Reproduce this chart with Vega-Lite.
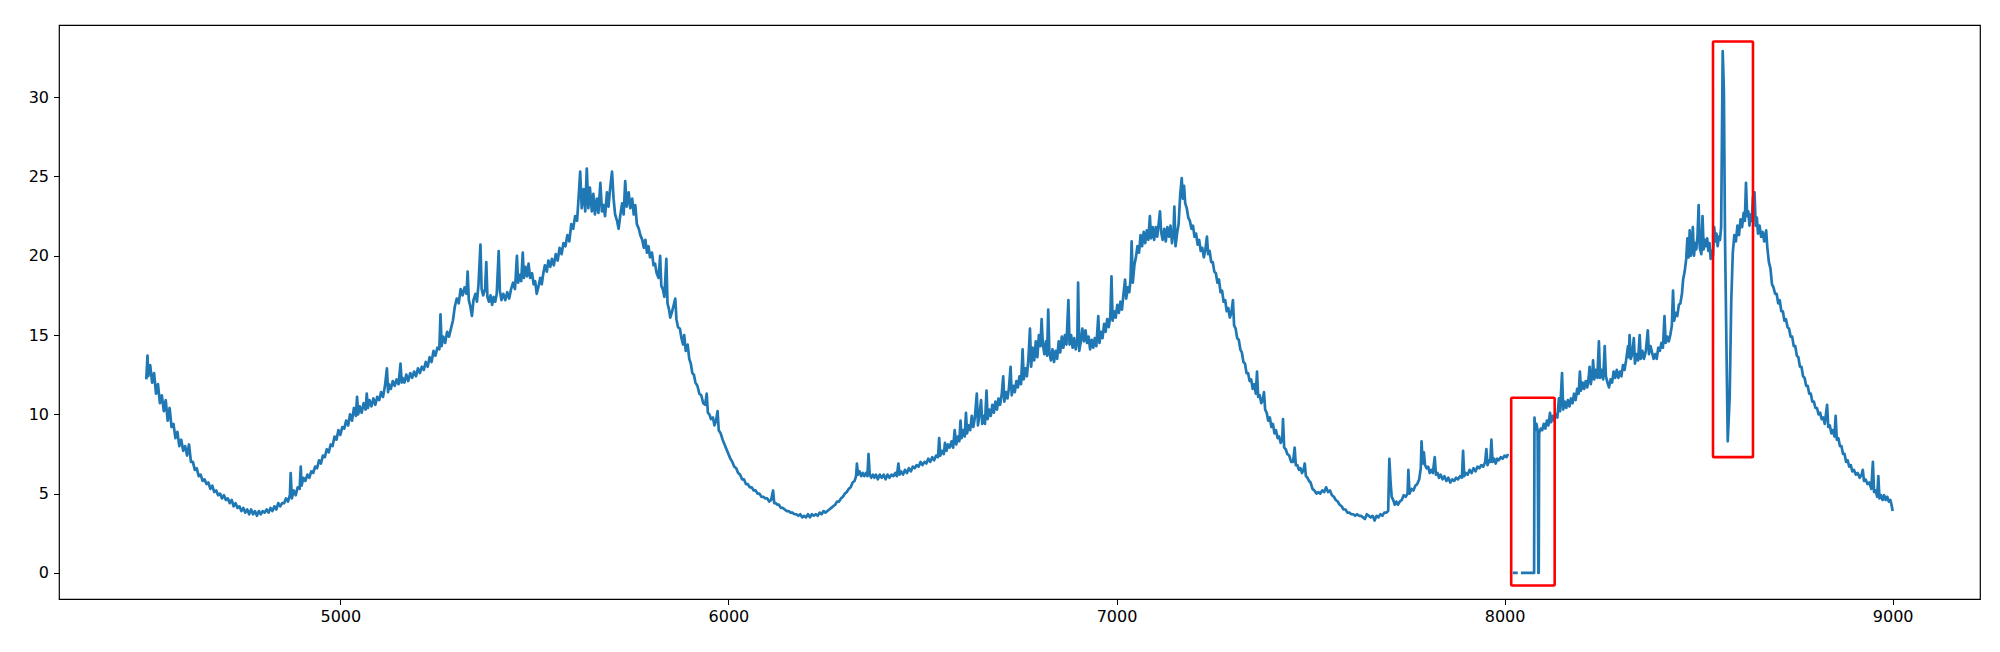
{
  "$schema": "https://vega.github.io/schema/vega-lite/v6.json",
  "width": 1921,
  "height": 574,
  "autosize": {"type": "none"},
  "padding": {"left": 59, "top": 25, "right": 20, "bottom": 53},
  "background": "#ffffff",
  "config": {
    "view": {"stroke": "#000000", "strokeWidth": 1.2},
    "axis": {"domain": false, "grid": false, "ticks": true, "tickColor": "#000000", "tickSize": 5.5, "tickWidth": 1, "labelFont": "DejaVu Sans", "labelFontSize": 16, "labelColor": "#000000", "title": null}
  },
  "datasets": {
    "series": [
      {"x":4500,"y":12.2},{"x":4503,"y":13.7},{"x":4505,"y":12.4},{"x":4510,"y":13.1},{"x":4515,"y":12.0},{"x":4520,"y":12.6},{"x":4525,"y":11.3},{"x":4530,"y":11.9},{"x":4535,"y":10.7},{"x":4540,"y":11.2},{"x":4545,"y":10.2},{"x":4550,"y":10.9},{"x":4555,"y":9.6},{"x":4560,"y":10.4},{"x":4565,"y":9.2},{"x":4570,"y":9.4},{"x":4575,"y":8.5},{"x":4580,"y":8.9},{"x":4585,"y":8.0},{"x":4590,"y":8.4},{"x":4595,"y":7.7},{"x":4600,"y":8.0},
      {"x":4605,"y":7.4},{"x":4610,"y":8.1},{"x":4615,"y":7.0},{"x":4620,"y":7.0},{"x":4625,"y":6.5},{"x":4630,"y":6.6},{"x":4635,"y":6.1},{"x":4640,"y":6.2},{"x":4645,"y":5.8},{"x":4650,"y":5.9},{"x":4655,"y":5.6},{"x":4660,"y":5.7},{"x":4665,"y":5.3},{"x":4670,"y":5.5},{"x":4675,"y":5.1},{"x":4680,"y":5.2},{"x":4685,"y":4.9},{"x":4690,"y":5.0},{"x":4695,"y":4.7},{"x":4700,"y":4.9},{"x":4705,"y":4.6},{"x":4710,"y":4.7},{"x":4715,"y":4.4},{"x":4720,"y":4.6},{"x":4725,"y":4.2},{"x":4730,"y":4.4},{"x":4735,"y":4.1},{"x":4740,"y":4.2},{"x":4745,"y":3.9},{"x":4750,"y":4.1},{"x":4755,"y":3.8},{"x":4760,"y":4.0},{"x":4765,"y":3.7},{"x":4770,"y":4.0},{"x":4775,"y":3.7},{"x":4780,"y":3.9},{"x":4785,"y":3.6},{"x":4790,"y":3.9},{"x":4795,"y":3.7},{"x":4800,"y":3.9},{"x":4805,"y":3.8},{"x":4810,"y":4.0},{"x":4815,"y":3.8},{"x":4820,"y":4.1},{"x":4825,"y":3.9},{"x":4830,"y":4.2},{"x":4835,"y":4.0},{"x":4840,"y":4.4},{"x":4845,"y":4.2},{"x":4850,"y":4.4},
      {"x":4855,"y":4.4},{"x":4860,"y":4.7},{"x":4865,"y":4.5},{"x":4870,"y":4.9},{"x":4872,"y":6.3},{"x":4875,"y":4.7},{"x":4880,"y":5.2},{"x":4885,"y":4.9},{"x":4890,"y":5.4},{"x":4895,"y":5.3},{"x":4898,"y":6.7},{"x":4900,"y":5.5},{"x":4905,"y":6.0},{"x":4910,"y":5.8},{"x":4915,"y":6.2},{"x":4920,"y":6.0},{"x":4925,"y":6.4},{"x":4930,"y":6.3},{"x":4935,"y":6.7},{"x":4940,"y":6.6},{"x":4945,"y":7.1},{"x":4950,"y":6.9},{"x":4955,"y":7.4},{"x":4960,"y":7.3},{"x":4965,"y":7.8},{"x":4970,"y":7.6},{"x":4975,"y":8.1},{"x":4980,"y":8.0},{"x":4985,"y":8.6},{"x":4990,"y":8.4},{"x":4995,"y":9.0},{"x":5000,"y":8.7},{"x":5005,"y":9.2},{"x":5010,"y":9.1},{"x":5015,"y":9.6},{"x":5020,"y":9.3},{"x":5025,"y":10.0},{"x":5030,"y":9.6},{"x":5035,"y":10.4},{"x":5040,"y":9.9},{"x":5043,"y":11.1},{"x":5046,"y":10.0},{"x":5050,"y":10.5},{"x":5055,"y":10.1},{"x":5060,"y":10.7},{"x":5065,"y":10.3},{"x":5068,"y":11.3},{"x":5071,"y":10.4},{"x":5075,"y":10.9},{"x":5080,"y":10.5},{"x":5085,"y":11.0},{"x":5090,"y":10.6},{"x":5095,"y":11.1},{"x":5100,"y":10.9},{"x":5105,"y":11.4},{"x":5110,"y":11.1},{"x":5115,"y":11.8},{"x":5120,"y":12.9},{"x":5123,"y":11.4},{"x":5125,"y":11.9},{"x":5130,"y":11.6},{"x":5135,"y":12.1},{"x":5140,"y":11.8},{"x":5145,"y":12.2},{"x":5150,"y":11.9},{"x":5155,"y":13.2},{"x":5158,"y":12.0},{"x":5160,"y":12.3},{"x":5165,"y":12.0},{"x":5170,"y":12.5},{"x":5175,"y":12.1},{"x":5180,"y":12.6},{"x":5185,"y":12.3},{"x":5190,"y":12.7},{"x":5195,"y":12.4},{"x":5200,"y":12.9},{"x":5205,"y":12.6},{"x":5210,"y":13.0},{"x":5215,"y":12.8},{"x":5220,"y":13.3},{"x":5225,"y":13.0},{"x":5230,"y":13.6},{"x":5235,"y":13.3},{"x":5240,"y":14.0},{"x":5245,"y":13.7},{"x":5250,"y":14.2},
      {"x":5255,"y":14.1},{"x":5258,"y":16.3},{"x":5261,"y":14.3},{"x":5265,"y":14.9},{"x":5270,"y":14.5},{"x":5275,"y":15.2},{"x":5280,"y":14.9},{"x":5285,"y":15.4},{"x":5290,"y":15.9},{"x":5295,"y":16.8},{"x":5300,"y":17.3},{"x":5305,"y":17.0},{"x":5310,"y":17.9},{"x":5315,"y":17.5},{"x":5320,"y":18.0},{"x":5325,"y":17.6},{"x":5328,"y":19.0},{"x":5331,"y":17.2},{"x":5335,"y":16.8},{"x":5339,"y":16.2},{"x":5343,"y":17.2},{"x":5348,"y":17.6},{"x":5352,"y":17.1},{"x":5356,"y":18.2},{"x":5361,"y":20.7},{"x":5364,"y":17.9},{"x":5368,"y":17.5},{"x":5373,"y":17.9},{"x":5376,"y":19.6},{"x":5379,"y":17.4},{"x":5383,"y":17.1},{"x":5387,"y":17.5},{"x":5391,"y":16.9},{"x":5395,"y":17.4},{"x":5399,"y":17.1},{"x":5403,"y":17.6},{"x":5408,"y":20.3},{"x":5411,"y":17.8},{"x":5415,"y":17.2},{"x":5420,"y":17.6},{"x":5425,"y":17.2},{"x":5430,"y":17.7},{"x":5435,"y":17.3},{"x":5440,"y":17.9},{"x":5445,"y":18.3},{"x":5450,"y":17.9},{"x":5455,"y":20.0},{"x":5458,"y":18.3},{"x":5462,"y":18.8},{"x":5466,"y":18.4},{"x":5470,"y":20.2},{"x":5473,"y":18.6},{"x":5477,"y":19.3},{"x":5481,"y":18.7},{"x":5485,"y":19.5},{"x":5489,"y":18.6},{"x":5494,"y":18.9},{"x":5498,"y":18.2},{"x":5502,"y":18.4},{"x":5506,"y":17.6},{"x":5510,"y":18.0},{"x":5515,"y":18.6},{"x":5519,"y":18.2},{"x":5523,"y":18.9},{"x":5527,"y":19.4},{"x":5532,"y":19.0},{"x":5536,"y":19.7},{"x":5541,"y":19.3},{"x":5545,"y":19.8},{"x":5550,"y":19.4},{"x":5555,"y":20.1},{"x":5560,"y":19.7},{"x":5565,"y":20.5},{"x":5570,"y":20.1},{"x":5575,"y":20.8},{"x":5580,"y":20.6},{"x":5585,"y":21.3},{"x":5590,"y":20.9},{"x":5595,"y":22.0},{"x":5600,"y":21.7},
      {"x":5605,"y":22.5},{"x":5610,"y":22.2},{"x":5614,"y":23.7},{"x":5618,"y":25.3},{"x":5622,"y":23.0},{"x":5627,"y":24.2},{"x":5631,"y":22.8},{"x":5635,"y":25.5},{"x":5639,"y":23.0},{"x":5643,"y":24.3},{"x":5648,"y":22.8},{"x":5652,"y":23.9},{"x":5656,"y":22.6},{"x":5661,"y":23.6},{"x":5665,"y":22.7},{"x":5670,"y":24.6},{"x":5674,"y":22.8},{"x":5678,"y":23.2},{"x":5682,"y":22.5},{"x":5687,"y":24.0},{"x":5691,"y":23.1},{"x":5695,"y":24.2},{"x":5700,"y":25.3},{"x":5704,"y":23.6},{"x":5708,"y":22.6},{"x":5713,"y":22.2},{"x":5717,"y":21.7},{"x":5721,"y":22.5},{"x":5726,"y":23.3},{"x":5730,"y":22.6},{"x":5734,"y":24.7},{"x":5738,"y":23.1},{"x":5743,"y":24.0},{"x":5747,"y":23.0},{"x":5752,"y":23.6},{"x":5756,"y":22.6},{"x":5760,"y":23.2},{"x":5764,"y":22.0},{"x":5769,"y":21.7},{"x":5773,"y":21.3},{"x":5778,"y":21.0},{"x":5782,"y":20.5},{"x":5786,"y":21.0},{"x":5790,"y":20.2},{"x":5794,"y":20.6},{"x":5798,"y":19.9},{"x":5803,"y":20.2},{"x":5807,"y":19.4},{"x":5811,"y":19.5},{"x":5815,"y":18.9},{"x":5820,"y":18.6},{"x":5824,"y":20.0},{"x":5827,"y":18.1},{"x":5831,"y":17.9},{"x":5835,"y":17.4},{"x":5840,"y":19.8},{"x":5843,"y":17.0},{"x":5847,"y":16.6},{"x":5850,"y":16.1},
      {"x":5855,"y":16.5},{"x":5860,"y":17.0},{"x":5863,"y":17.3},{"x":5866,"y":16.0},{"x":5870,"y":15.5},{"x":5875,"y":15.4},{"x":5879,"y":14.8},{"x":5883,"y":14.4},{"x":5886,"y":15.0},{"x":5890,"y":14.0},{"x":5895,"y":14.4},{"x":5899,"y":13.5},{"x":5903,"y":13.2},{"x":5907,"y":12.6},{"x":5911,"y":12.5},{"x":5915,"y":12.0},{"x":5920,"y":11.8},{"x":5925,"y":11.3},{"x":5930,"y":11.2},{"x":5935,"y":10.7},{"x":5940,"y":10.6},{"x":5944,"y":11.3},{"x":5947,"y":10.1},{"x":5951,"y":10.0},{"x":5955,"y":9.7},{"x":5960,"y":9.8},{"x":5964,"y":9.3},{"x":5968,"y":9.6},{"x":5972,"y":10.2},{"x":5975,"y":9.0},{"x":5980,"y":8.8},{"x":5985,"y":8.4},{"x":5990,"y":8.1},{"x":5995,"y":7.8},{"x":6000,"y":7.5},
      {"x":6005,"y":7.2},{"x":6010,"y":7.0},{"x":6015,"y":6.7},{"x":6020,"y":6.6},{"x":6025,"y":6.3},{"x":6030,"y":6.2},{"x":6035,"y":5.9},{"x":6040,"y":5.9},{"x":6045,"y":5.6},{"x":6050,"y":5.6},{"x":6055,"y":5.4},{"x":6060,"y":5.4},{"x":6065,"y":5.2},{"x":6070,"y":5.2},{"x":6075,"y":5.0},{"x":6080,"y":5.0},{"x":6085,"y":4.8},{"x":6090,"y":4.8},{"x":6095,"y":4.7},{"x":6100,"y":4.7},{"x":6105,"y":4.5},{"x":6110,"y":4.6},{"x":6115,"y":5.2},{"x":6118,"y":4.4},{"x":6122,"y":4.4},{"x":6126,"y":4.3},{"x":6130,"y":4.3},{"x":6135,"y":4.1},{"x":6140,"y":4.1},{"x":6145,"y":4.0},{"x":6150,"y":3.9},{"x":6155,"y":3.9},{"x":6160,"y":3.8},{"x":6165,"y":3.8},{"x":6170,"y":3.7},{"x":6175,"y":3.7},{"x":6180,"y":3.6},{"x":6185,"y":3.7},{"x":6190,"y":3.5},{"x":6195,"y":3.6},{"x":6200,"y":3.5},{"x":6205,"y":3.7},{"x":6210,"y":3.5},{"x":6215,"y":3.7},{"x":6220,"y":3.6},{"x":6225,"y":3.7},{"x":6230,"y":3.6},{"x":6235,"y":3.8},{"x":6240,"y":3.7},{"x":6245,"y":3.9},{"x":6250,"y":3.8},{"x":6255,"y":3.9},{"x":6260,"y":4.0},{"x":6265,"y":4.1},{"x":6270,"y":4.2},{"x":6275,"y":4.3},{"x":6280,"y":4.5},{"x":6285,"y":4.5},{"x":6290,"y":4.7},{"x":6295,"y":4.8},{"x":6300,"y":5.0},
      {"x":6305,"y":5.1},{"x":6310,"y":5.3},{"x":6315,"y":5.4},{"x":6320,"y":5.7},{"x":6325,"y":5.8},{"x":6329,"y":6.1},{"x":6331,"y":6.9},{"x":6334,"y":6.2},{"x":6338,"y":6.4},{"x":6342,"y":6.1},{"x":6346,"y":6.3},{"x":6350,"y":6.1},{"x":6354,"y":6.3},{"x":6358,"y":6.1},{"x":6361,"y":7.5},{"x":6364,"y":6.2},{"x":6368,"y":6.0},{"x":6372,"y":6.2},{"x":6376,"y":6.0},{"x":6380,"y":6.2},{"x":6385,"y":5.9},{"x":6390,"y":6.2},{"x":6395,"y":6.0},{"x":6400,"y":6.2},{"x":6405,"y":5.9},{"x":6410,"y":6.2},{"x":6415,"y":6.0},{"x":6420,"y":6.2},{"x":6425,"y":6.1},{"x":6430,"y":6.3},{"x":6434,"y":6.1},{"x":6438,"y":6.9},{"x":6441,"y":6.2},{"x":6445,"y":6.4},{"x":6450,"y":6.2},{"x":6455,"y":6.5},{"x":6460,"y":6.3},{"x":6465,"y":6.6},{"x":6470,"y":6.4},{"x":6475,"y":6.7},{"x":6480,"y":6.6},{"x":6485,"y":6.8},{"x":6490,"y":6.7},{"x":6495,"y":7.0},{"x":6500,"y":6.8},{"x":6505,"y":7.0},{"x":6510,"y":6.9},{"x":6515,"y":7.2},{"x":6520,"y":7.0},{"x":6525,"y":7.3},{"x":6530,"y":7.1},{"x":6535,"y":7.4},{"x":6540,"y":7.3},{"x":6543,"y":8.5},{"x":6546,"y":7.4},{"x":6550,"y":7.7},
      {"x":6555,"y":7.5},{"x":6558,"y":8.2},{"x":6562,"y":7.7},{"x":6566,"y":8.1},{"x":6570,"y":7.9},{"x":6575,"y":8.3},{"x":6579,"y":7.9},{"x":6583,"y":9.0},{"x":6587,"y":8.1},{"x":6591,"y":8.6},{"x":6595,"y":8.3},{"x":6598,"y":9.6},{"x":6601,"y":8.5},{"x":6605,"y":9.0},{"x":6609,"y":8.6},{"x":6612,"y":10.1},{"x":6615,"y":8.8},{"x":6619,"y":9.3},{"x":6623,"y":9.0},{"x":6627,"y":9.9},{"x":6631,"y":9.2},{"x":6635,"y":9.8},{"x":6640,"y":11.3},{"x":6643,"y":9.3},{"x":6647,"y":10.0},{"x":6651,"y":10.9},{"x":6654,"y":9.4},{"x":6658,"y":9.9},{"x":6661,"y":9.4},{"x":6665,"y":11.5},{"x":6668,"y":9.7},{"x":6672,"y":10.3},{"x":6676,"y":9.9},{"x":6680,"y":10.6},{"x":6684,"y":10.1},{"x":6688,"y":10.8},{"x":6692,"y":10.3},{"x":6696,"y":11.0},{"x":6700,"y":10.6},{"x":6704,"y":11.2},{"x":6708,"y":12.4},{"x":6711,"y":10.8},{"x":6715,"y":11.4},{"x":6719,"y":11.0},{"x":6723,"y":11.7},{"x":6727,"y":13.0},{"x":6730,"y":11.2},{"x":6734,"y":11.8},{"x":6738,"y":11.4},{"x":6742,"y":12.1},{"x":6746,"y":11.7},{"x":6750,"y":12.4},{"x":6754,"y":11.9},{"x":6758,"y":14.1},{"x":6761,"y":12.2},{"x":6765,"y":12.9},{"x":6769,"y":12.4},{"x":6773,"y":13.5},{"x":6777,"y":15.4},{"x":6780,"y":13.0},{"x":6784,"y":14.2},{"x":6788,"y":13.4},{"x":6792,"y":14.6},{"x":6796,"y":13.6},{"x":6800,"y":15.0},{"x":6804,"y":14.3},{"x":6807,"y":16.0},{"x":6810,"y":14.5},{"x":6814,"y":13.8},{"x":6818,"y":14.6},{"x":6821,"y":13.7},{"x":6824,"y":16.6},{"x":6827,"y":13.9},{"x":6831,"y":13.4},{"x":6835,"y":14.1},{"x":6839,"y":13.3},{"x":6843,"y":14.0},{"x":6847,"y":13.5},{"x":6851,"y":14.6},{"x":6855,"y":13.9},{"x":6859,"y":14.9},{"x":6863,"y":14.2},{"x":6867,"y":15.0},{"x":6871,"y":14.4},{"x":6876,"y":17.2},{"x":6879,"y":14.4},{"x":6883,"y":15.0},{"x":6887,"y":14.2},{"x":6891,"y":14.8},{"x":6895,"y":14.1},{"x":6899,"y":14.7},{"x":6901,"y":18.3},{"x":6904,"y":14.0},{"x":6908,"y":14.6},{"x":6912,"y":15.4},{"x":6916,"y":14.6},{"x":6920,"y":15.3},{"x":6924,"y":14.5},{"x":6928,"y":14.9},{"x":6932,"y":14.1},{"x":6936,"y":14.7},{"x":6940,"y":14.2},{"x":6944,"y":14.8},{"x":6948,"y":14.3},{"x":6953,"y":16.2},{"x":6956,"y":14.5},{"x":6960,"y":15.2},{"x":6964,"y":14.8},{"x":6968,"y":15.7},{"x":6972,"y":15.2},{"x":6976,"y":16.0},{"x":6980,"y":15.5},{"x":6984,"y":16.2},{"x":6987,"y":18.7},{"x":6990,"y":15.9},{"x":6994,"y":16.5},{"x":6998,"y":16.1},{"x":7002,"y":16.9},{"x":7006,"y":16.4},{"x":7010,"y":17.1},{"x":7014,"y":16.6},{"x":7018,"y":17.6},{"x":7022,"y":18.5},{"x":7025,"y":17.3},{"x":7029,"y":18.0},{"x":7033,"y":17.7},{"x":7036,"y":18.5},{"x":7039,"y":20.9},{"x":7042,"y":18.3},{"x":7046,"y":19.4},{"x":7050,"y":19.9},{"x":7054,"y":20.6},{"x":7058,"y":20.2},{"x":7062,"y":21.3},{"x":7066,"y":20.6},{"x":7070,"y":21.5},{"x":7074,"y":20.8},{"x":7078,"y":21.6},{"x":7082,"y":21.0},{"x":7086,"y":22.5},{"x":7089,"y":21.1},{"x":7093,"y":21.8},{"x":7097,"y":21.0},{"x":7101,"y":21.8},{"x":7105,"y":21.2},{"x":7109,"y":22.1},{"x":7112,"y":22.8},{"x":7115,"y":21.5},{"x":7119,"y":21.0},{"x":7123,"y":21.7},{"x":7127,"y":20.9},{"x":7131,"y":21.8},{"x":7135,"y":21.2},{"x":7139,"y":21.9},{"x":7143,"y":20.8},{"x":7147,"y":21.6},{"x":7149,"y":23.1},{"x":7152,"y":20.6},{"x":7156,"y":21.4},{"x":7160,"y":22.0},{"x":7164,"y":23.8},{"x":7168,"y":24.9},{"x":7171,"y":23.6},{"x":7174,"y":24.4},{"x":7177,"y":23.3},{"x":7181,"y":23.0},{"x":7185,"y":22.4},{"x":7189,"y":22.2},{"x":7193,"y":21.7},{"x":7197,"y":21.9},{"x":7201,"y":21.2},{"x":7205,"y":21.4},{"x":7209,"y":20.7},{"x":7213,"y":21.0},{"x":7217,"y":20.3},{"x":7221,"y":20.5},{"x":7225,"y":19.9},{"x":7229,"y":20.4},{"x":7233,"y":21.2},{"x":7236,"y":20.1},{"x":7240,"y":20.3},{"x":7244,"y":19.6},{"x":7248,"y":19.6},
      {"x":7252,"y":19.0},{"x":7256,"y":18.9},{"x":7260,"y":18.3},{"x":7264,"y":18.5},{"x":7268,"y":17.7},{"x":7272,"y":17.8},{"x":7276,"y":17.1},{"x":7280,"y":17.2},{"x":7284,"y":16.5},{"x":7288,"y":16.7},{"x":7292,"y":16.1},{"x":7296,"y":16.4},{"x":7300,"y":17.2},{"x":7303,"y":15.6},{"x":7307,"y":15.4},{"x":7311,"y":14.8},{"x":7315,"y":14.7},{"x":7319,"y":14.1},{"x":7323,"y":13.9},{"x":7327,"y":13.3},{"x":7331,"y":13.2},{"x":7335,"y":12.6},{"x":7339,"y":12.6},{"x":7343,"y":12.1},{"x":7347,"y":12.2},{"x":7351,"y":11.6},{"x":7355,"y":11.9},{"x":7359,"y":11.3},{"x":7362,"y":12.7},{"x":7365,"y":11.1},{"x":7369,"y":11.2},{"x":7373,"y":10.7},{"x":7377,"y":10.9},{"x":7380,"y":11.4},{"x":7383,"y":10.3},{"x":7387,"y":10.1},{"x":7391,"y":9.6},{"x":7395,"y":9.8},{"x":7399,"y":9.2},{"x":7403,"y":9.4},{"x":7407,"y":8.8},{"x":7411,"y":9.0},{"x":7415,"y":8.5},{"x":7419,"y":8.6},{"x":7423,"y":8.2},{"x":7427,"y":8.4},{"x":7429,"y":9.7},{"x":7432,"y":7.9},{"x":7436,"y":7.8},{"x":7440,"y":7.5},{"x":7445,"y":7.4},{"x":7450,"y":7.0},
      {"x":7455,"y":7.0},{"x":7459,"y":7.9},{"x":7462,"y":6.8},{"x":7466,"y":6.8},{"x":7470,"y":6.5},{"x":7474,"y":6.6},{"x":7478,"y":6.3},{"x":7482,"y":6.5},{"x":7485,"y":6.9},{"x":7488,"y":6.1},{"x":7492,"y":6.0},{"x":7496,"y":5.8},{"x":7500,"y":5.7},{"x":7505,"y":5.3},{"x":7510,"y":5.2},{"x":7515,"y":5.0},{"x":7520,"y":5.1},{"x":7525,"y":5.0},{"x":7530,"y":5.2},{"x":7535,"y":5.1},{"x":7540,"y":5.4},{"x":7545,"y":5.1},{"x":7550,"y":5.2},{"x":7555,"y":4.9},{"x":7560,"y":4.8},{"x":7565,"y":4.6},{"x":7570,"y":4.5},{"x":7575,"y":4.3},{"x":7580,"y":4.2},{"x":7585,"y":4.0},{"x":7590,"y":4.0},{"x":7595,"y":3.8},{"x":7600,"y":3.8},{"x":7605,"y":3.7},{"x":7610,"y":3.7},{"x":7615,"y":3.6},{"x":7620,"y":3.7},{"x":7625,"y":3.6},{"x":7630,"y":3.6},{"x":7635,"y":3.5},{"x":7640,"y":3.4},{"x":7645,"y":3.7},{"x":7650,"y":3.6},{"x":7655,"y":3.5},{"x":7660,"y":3.6},{"x":7665,"y":3.3},{"x":7670,"y":3.6},{"x":7675,"y":3.5},{"x":7680,"y":3.7},{"x":7685,"y":3.6},{"x":7690,"y":3.8},{"x":7695,"y":3.8},{"x":7700,"y":3.9},
      {"x":7703,"y":7.2},{"x":7706,"y":5.8},{"x":7709,"y":4.8},{"x":7713,"y":4.6},{"x":7717,"y":4.3},{"x":7721,"y":4.5},{"x":7725,"y":4.3},{"x":7730,"y":4.5},{"x":7735,"y":4.6},{"x":7740,"y":4.9},{"x":7745,"y":4.8},{"x":7750,"y":5.0},{"x":7752,"y":6.5},{"x":7755,"y":5.0},{"x":7760,"y":5.3},{"x":7765,"y":5.2},{"x":7770,"y":5.5},{"x":7775,"y":5.6},{"x":7780,"y":5.9},{"x":7784,"y":6.6},{"x":7786,"y":8.3},{"x":7789,"y":6.9},{"x":7792,"y":7.6},{"x":7795,"y":6.8},{"x":7799,"y":6.6},{"x":7803,"y":6.7},{"x":7807,"y":6.3},{"x":7811,"y":6.5},{"x":7815,"y":6.3},{"x":7820,"y":7.3},{"x":7823,"y":6.2},{"x":7827,"y":6.3},{"x":7831,"y":6.0},{"x":7835,"y":6.2},{"x":7840,"y":5.9},{"x":7845,"y":6.1},{"x":7850,"y":5.8},{"x":7855,"y":6.0},{"x":7860,"y":5.7},{"x":7865,"y":5.9},{"x":7870,"y":5.8},{"x":7875,"y":6.0},{"x":7880,"y":5.9},{"x":7885,"y":6.1},{"x":7890,"y":6.0},{"x":7893,"y":7.7},{"x":7896,"y":6.1},{"x":7900,"y":6.3},{"x":7905,"y":6.2},{"x":7910,"y":6.5},{"x":7915,"y":6.3},{"x":7920,"y":6.6},{"x":7925,"y":6.4},{"x":7930,"y":6.7},{"x":7935,"y":6.6},{"x":7940,"y":6.8},{"x":7945,"y":6.7},{"x":7950,"y":7.0},{"x":7953,"y":7.8},{"x":7956,"y":6.8},{"x":7960,"y":7.1},{"x":7963,"y":7.0},{"x":7966,"y":8.4},{"x":7969,"y":7.0},{"x":7973,"y":7.2},{"x":7977,"y":6.9},{"x":7981,"y":7.2},{"x":7985,"y":7.1},{"x":7990,"y":7.3},{"x":7995,"y":7.2},{"x":8000,"y":7.4},{"x":8005,"y":7.3},{"x":8009,"y":7.5},
      {"x":8013,"y":null},{"x":8021,"y":0},{"x":8034,"y":0},{"x":8037,"y":null},{"x":8042,"y":0},{"x":8076,"y":0},{"x":8077,"y":9.8},{"x":8079,"y":9.0},{"x":8082,"y":9.4},{"x":8085,"y":9.0},{"x":8087,"y":0},{"x":8088,"y":0},{"x":8089,"y":8.8},{"x":8093,"y":9.1},
      {"x":8097,"y":9.0},{"x":8101,"y":9.4},{"x":8105,"y":9.1},{"x":8109,"y":9.6},{"x":8113,"y":9.3},{"x":8117,"y":10.1},{"x":8120,"y":9.5},{"x":8124,"y":9.9},{"x":8128,"y":9.6},{"x":8132,"y":10.0},{"x":8136,"y":9.8},{"x":8140,"y":11.0},{"x":8143,"y":10.2},{"x":8148,"y":12.6},{"x":8151,"y":10.3},{"x":8155,"y":10.8},{"x":8159,"y":10.4},{"x":8163,"y":10.9},{"x":8167,"y":10.5},{"x":8171,"y":11.0},{"x":8175,"y":10.7},{"x":8179,"y":11.3},{"x":8183,"y":10.9},{"x":8187,"y":11.6},{"x":8191,"y":11.3},{"x":8194,"y":12.7},{"x":8197,"y":11.5},{"x":8201,"y":12.0},{"x":8205,"y":11.6},{"x":8209,"y":12.1},{"x":8213,"y":11.7},{"x":8217,"y":12.4},{"x":8219,"y":13.0},{"x":8222,"y":11.9},{"x":8226,"y":12.5},{"x":8228,"y":13.4},{"x":8231,"y":12.2},{"x":8235,"y":12.8},{"x":8239,"y":12.3},{"x":8243,"y":14.6},{"x":8246,"y":12.3},{"x":8250,"y":12.8},{"x":8254,"y":12.2},{"x":8258,"y":14.3},{"x":8261,"y":12.4},{"x":8265,"y":12.0},{"x":8269,"y":11.7},{"x":8273,"y":12.2},{"x":8277,"y":12.0},{"x":8281,"y":12.7},{"x":8285,"y":12.3},{"x":8289,"y":12.8},{"x":8293,"y":12.3},{"x":8297,"y":12.7},{"x":8301,"y":12.4},{"x":8305,"y":13.1},{"x":8309,"y":12.8},{"x":8313,"y":13.4},{"x":8318,"y":14.3},{"x":8320,"y":13.6},{"x":8322,"y":15.0},{"x":8325,"y":13.5},{"x":8329,"y":13.8},{"x":8333,"y":14.8},{"x":8336,"y":13.2},{"x":8340,"y":13.8},{"x":8344,"y":13.4},{"x":8348,"y":15.0},{"x":8351,"y":13.5},{"x":8355,"y":14.0},{"x":8359,"y":13.5},{"x":8364,"y":14.0},{"x":8369,"y":15.3},{"x":8372,"y":13.8},{"x":8376,"y":14.3},{"x":8380,"y":13.9},{"x":8384,"y":13.5},{"x":8388,"y":13.8},{"x":8392,"y":13.5},{"x":8396,"y":14.2},{"x":8400,"y":14.0},{"x":8404,"y":14.5},{"x":8408,"y":14.2},{"x":8412,"y":16.2},{"x":8415,"y":14.5},{"x":8419,"y":14.9},{"x":8423,"y":14.6},{"x":8427,"y":15.0},{"x":8431,"y":15.6},{"x":8434,"y":17.8},{"x":8437,"y":15.9},{"x":8441,"y":16.4},{"x":8445,"y":16.2},{"x":8449,"y":16.9},
      {"x":8453,"y":17.0},{"x":8457,"y":17.6},{"x":8460,"y":18.5},{"x":8464,"y":19.0},{"x":8468,"y":19.8},{"x":8471,"y":21.1},{"x":8474,"y":19.9},{"x":8477,"y":21.6},{"x":8480,"y":20.0},{"x":8483,"y":20.6},{"x":8485,"y":21.8},{"x":8488,"y":20.0},{"x":8491,"y":20.8},{"x":8494,"y":20.4},{"x":8497,"y":21.2},{"x":8500,"y":23.2},{"x":8503,"y":20.5},{"x":8507,"y":20.1},{"x":8510,"y":22.5},{"x":8513,"y":20.4},{"x":8516,"y":21.0},{"x":8519,"y":20.6},{"x":8522,"y":21.1},{"x":8525,"y":20.3},{"x":8528,"y":20.8},{"x":8531,"y":19.8},{"x":8534,"y":20.3},{"x":8537,"y":20.0},{"x":8540,"y":21.8},{"x":8543,"y":20.9},{"x":8546,"y":21.4},{"x":8549,"y":20.6},{"x":8552,"y":21.2},{"x":8555,"y":21.0},{"x":8558,"y":21.8},{"x":8562,"y":32.9},{"x":8565,"y":30.5},{"x":8568,"y":21.0},{"x":8575,"y":8.3},{"x":8580,"y":11.1},{"x":8584,"y":17.1},{"x":8588,"y":20.2},{"x":8592,"y":21.3},{"x":8596,"y":20.9},{"x":8600,"y":21.9},{"x":8604,"y":21.3},{"x":8608,"y":22.3},{"x":8612,"y":21.8},{"x":8616,"y":22.7},{"x":8619,"y":22.2},{"x":8622,"y":24.6},{"x":8625,"y":22.5},{"x":8628,"y":22.8},{"x":8631,"y":21.9},{"x":8634,"y":22.6},{"x":8637,"y":22.2},{"x":8640,"y":23.7},{"x":8644,"y":24.0},{"x":8647,"y":21.9},{"x":8650,"y":22.4},{"x":8653,"y":21.4},{"x":8657,"y":21.9},{"x":8661,"y":21.2},{"x":8665,"y":21.5},{"x":8669,"y":20.9},{"x":8674,"y":21.6},{"x":8677,"y":20.5},{"x":8681,"y":19.6},{"x":8685,"y":19.2},{"x":8689,"y":18.2},{"x":8693,"y":18.0},{"x":8697,"y":17.6},{"x":8701,"y":17.6},{"x":8705,"y":17.0},{"x":8709,"y":17.2},{"x":8713,"y":16.5},{"x":8717,"y":16.5},{"x":8721,"y":15.9},{"x":8725,"y":16.0},{"x":8729,"y":15.5},{"x":8733,"y":15.4},{"x":8737,"y":14.9},{"x":8741,"y":14.9},{"x":8745,"y":14.3},{"x":8749,"y":14.3},{"x":8753,"y":13.7},{"x":8757,"y":13.6},{"x":8761,"y":13.0},{"x":8765,"y":13.0},{"x":8769,"y":12.4},{"x":8773,"y":12.3},{"x":8777,"y":11.8},{"x":8781,"y":11.8},{"x":8785,"y":11.3},{"x":8789,"y":11.3},{"x":8793,"y":10.8},{"x":8797,"y":10.8},{"x":8801,"y":10.4},{"x":8805,"y":10.4},{"x":8809,"y":10.0},{"x":8813,"y":10.1},{"x":8817,"y":9.7},{"x":8821,"y":9.8},{"x":8825,"y":9.4},{"x":8831,"y":10.6},{"x":8834,"y":9.2},{"x":8838,"y":9.3},{"x":8842,"y":8.8},{"x":8846,"y":9.0},{"x":8850,"y":8.6},{"x":8853,"y":9.9},{"x":8856,"y":8.4},{"x":8860,"y":8.5},{"x":8864,"y":8.0},{"x":8868,"y":8.0},{"x":8872,"y":7.5},{"x":8876,"y":7.5},{"x":8880,"y":7.0},{"x":8884,"y":7.1},{"x":8888,"y":6.7},{"x":8892,"y":6.8},{"x":8896,"y":6.4},{"x":8900,"y":6.5},{"x":8905,"y":6.2},{"x":8910,"y":6.3},{"x":8915,"y":6.0},{"x":8920,"y":6.2},{"x":8923,"y":6.5},{"x":8926,"y":5.8},{"x":8930,"y":5.9},{"x":8935,"y":5.6},{"x":8940,"y":5.7},{"x":8945,"y":5.3},{"x":8949,"y":7.0},{"x":8952,"y":5.1},{"x":8956,"y":5.2},{"x":8960,"y":4.8},{"x":8963,"y":6.1},{"x":8966,"y":4.7},{"x":8970,"y":4.9},{"x":8974,"y":4.6},{"x":8978,"y":4.9},{"x":8982,"y":4.6},{"x":8986,"y":4.8},{"x":8990,"y":4.5},{"x":8994,"y":4.6},{"x":8997,"y":4.3},{"x":9000,"y":3.9}
    ],
    "boxes": [
      {"x1": 8017, "x2": 8129, "y1": -0.79, "y2": 11.05},
      {"x1": 8537, "x2": 8640, "y1": 7.3, "y2": 33.51}
    ]
  },
  "layer": [
    {
      "data": {"name": "series"},
      "mark": {"type": "line", "color": "#1f77b4", "strokeWidth": 2.7, "strokeJoin": "round", "strokeCap": "butt", "invalid": "break-paths-show-domains", "clip": true},
      "encoding": {
        "x": {"field": "x", "type": "quantitative", "scale": {"domain": [4275, 9225], "nice": false, "zero": false}, "axis": {"values": [5000, 6000, 7000, 8000, 9000], "format": "d", "labelPadding": 4}},
        "y": {"field": "y", "type": "quantitative", "scale": {"domain": [-1.645, 34.55], "nice": false, "zero": false}, "axis": {"values": [0, 5, 10, 15, 20, 25, 30], "format": "d", "labelPadding": 5}}
      }
    },
    {
      "data": {"name": "boxes"},
      "mark": {"type": "rect", "filled": false, "stroke": "#ff0000", "strokeWidth": 2.6, "cornerRadius": 1},
      "encoding": {
        "x": {"field": "x1", "type": "quantitative"},
        "x2": {"field": "x2"},
        "y": {"field": "y1", "type": "quantitative"},
        "y2": {"field": "y2"}
      }
    }
  ]
}
